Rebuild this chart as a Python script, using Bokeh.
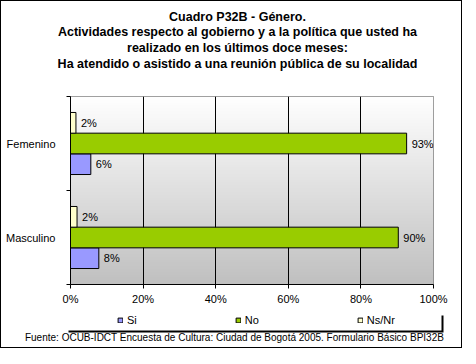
import numpy as np
from bokeh.plotting import figure
from bokeh.layouts import column, row
from bokeh.models import (Range1d, FixedTicker, Legend, LegendItem,
                          ColumnDataSource)
from bokeh.core.properties import value
from bokeh.embed import file_html
from bokeh.resources import INLINE

# ---- data ----
categories = ["Masculino", "Femenino"]
series = ["Si", "No", "Ns/Nr"]
si_vals = [7.8, 5.6]
no_vals = [90.3, 92.6]
nsnr_vals = [1.8, 1.5]
colors = ["#9999FF", "#99CC00", "#FFFFCC"]
x_ticks = [0, 20, 40, 60, 80, 100]
x_tick_labels = ["0%", "20%", "40%", "60%", "80%", "100%"]
title_lines = ["Cuadro P32B - Género.",
               "Actividades respecto al gobierno y a la política que usted ha",
               "realizado en los últimos doce meses:",
               "Ha atendido o asistido a una reunión pública de su localidad"]
source_text = "Fuente: OCUB-IDCT Encuesta de Cultura: Ciudad de Bogotá 2005. Formulario Básico BPI32B"

FONT = "Liberation Sans"
W = 460
H_TOP, H_MAIN, H_BOT = 94, 214, 38


def blank(h, y0):
    f = figure(width=W, height=h, output_backend="svg", toolbar_location=None,
               x_range=Range1d(0, W), y_range=Range1d(y0 + h, y0),
               x_axis_location=None, y_axis_location=None,
               min_border=0, outline_line_color=None,
               background_fill_color="white", border_fill_color="white")
    f.grid.visible = False
    return f


# ---------- title ----------
pt = blank(H_TOP, 0)
pt.text(x=[236] * len(title_lines), y=[15 + i * 15.9 for i in range(len(title_lines))],
        text=title_lines, text_align="center", text_baseline="middle",
        text_font=value(FONT), text_font_size="12.5px", text_font_style="bold",
        text_color="black")

# ---------- main chart ----------
p = figure(width=W, height=H_MAIN, output_backend="svg", toolbar_location=None,
           x_range=Range1d(0, 100), y_range=Range1d(0, 2),
           min_border_left=69, min_border_right=28, min_border_top=1,
           min_border_bottom=25, background_fill_color="white",
           border_fill_color="white", outline_line_color="#808080")

n = 200
g = np.linspace(0xC0, 0xFF, n).astype(np.uint32)  # bottom -> top
img = ((0xFF << 24) | (g << 16) | (g << 8) | g).reshape(n, 1).astype(np.uint32)
p.image_rgba(image=[img], x=0, y=0, dw=100, dh=2, level="image")

bh = 0.22
offsets = {"Si": -bh, "No": 0.0, "Ns/Nr": bh}
vals = {"Si": si_vals, "No": no_vals, "Ns/Nr": nsnr_vals}
sources = {}
for s, c in zip(series, colors):
    ys = [i + 0.5 + offsets[s] for i in range(len(categories))]
    src = ColumnDataSource(dict(y=ys, right=vals[s],
                                lab=[f"{round(v)}%" for v in vals[s]]))
    sources[s] = src
    p.hbar(y="y", right="right", left=0, height=bh, source=src,
           fill_color=c, line_color="black", line_width=1)
    p.text(x="right", y="y", text="lab", source=src, x_offset=5,
           text_baseline="middle", text_align="left",
           text_font=value(FONT), text_font_size="11px", text_color="black")

p.ygrid.visible = False
p.xgrid.ticker = FixedTicker(ticks=[20, 40, 60, 80])
p.xgrid.grid_line_color = "black"

xa = p.xaxis[0]
xa.ticker = FixedTicker(ticks=x_ticks)
xa.major_label_overrides = {t: l for t, l in zip(x_ticks, x_tick_labels)}
xa.major_tick_out = 4
xa.major_tick_in = 0
xa.minor_tick_line_color = None
xa.axis_line_color = "black"
xa.major_tick_line_color = "black"
xa.major_label_text_font = FONT
xa.major_label_text_font_size = "11px"
xa.major_label_text_color = "black"
xa.major_label_standoff = 4

ya = p.yaxis[0]
ya.ticker = FixedTicker(ticks=[i + 0.5 for i in range(len(categories))],
                        minor_ticks=list(range(len(categories) + 1)))
ya.major_label_overrides = {i + 0.5: c for i, c in enumerate(categories)}
ya.major_tick_line_color = None
ya.major_tick_out = 0
ya.major_tick_in = 0
ya.minor_tick_line_color = "black"
ya.minor_tick_out = 4
ya.minor_tick_in = 0
ya.axis_line_color = "black"
ya.major_label_text_font = FONT
ya.major_label_text_font_size = "11px"
ya.major_label_text_color = "black"
ya.major_label_standoff = 11

# ---------- legend + source ----------
y0 = H_TOP + H_MAIN
pb = blank(H_BOT, y0)
# legend frame with shadow
pb.quad(left=[67], right=[442], top=[314], bottom=[331],
        fill_color="black", line_color=None)
pb.quad(left=[65], right=[440], top=[312], bottom=[329],
        fill_color="white", line_color=None)
items = []
for s, c in zip(series, colors):
    r = pb.hbar(y="y", right="right", left=0, height=bh, source=sources[s],
                fill_color=c, line_color="black", line_width=1, visible=False)
    items.append(LegendItem(label=s, renderers=[r]))
legend = Legend(items=items, orientation="horizontal",
                location=(116, H_BOT - (319 - y0) - 6.5),
                glyph_width=6, glyph_height=6, label_standoff=4, spacing=98,
                label_width=0, padding=0, margin=0, border_line_color=None,
                background_fill_alpha=0, label_height=13,
                inactive_fill_alpha=0,
                label_text_font=FONT, label_text_font_size="11px",
                label_text_color="black")
pb.add_layout(legend, "center")
pb.text(x=[233], y=[335.5], text=[source_text], text_align="center",
        text_baseline="middle", text_font=value(FONT), text_font_size="10px",
        text_color="black")

layout = column(pt, row(p), pb, spacing=0, styles={"border": "1px solid black"})

open("out.html", "w").write(file_html(layout, INLINE))
